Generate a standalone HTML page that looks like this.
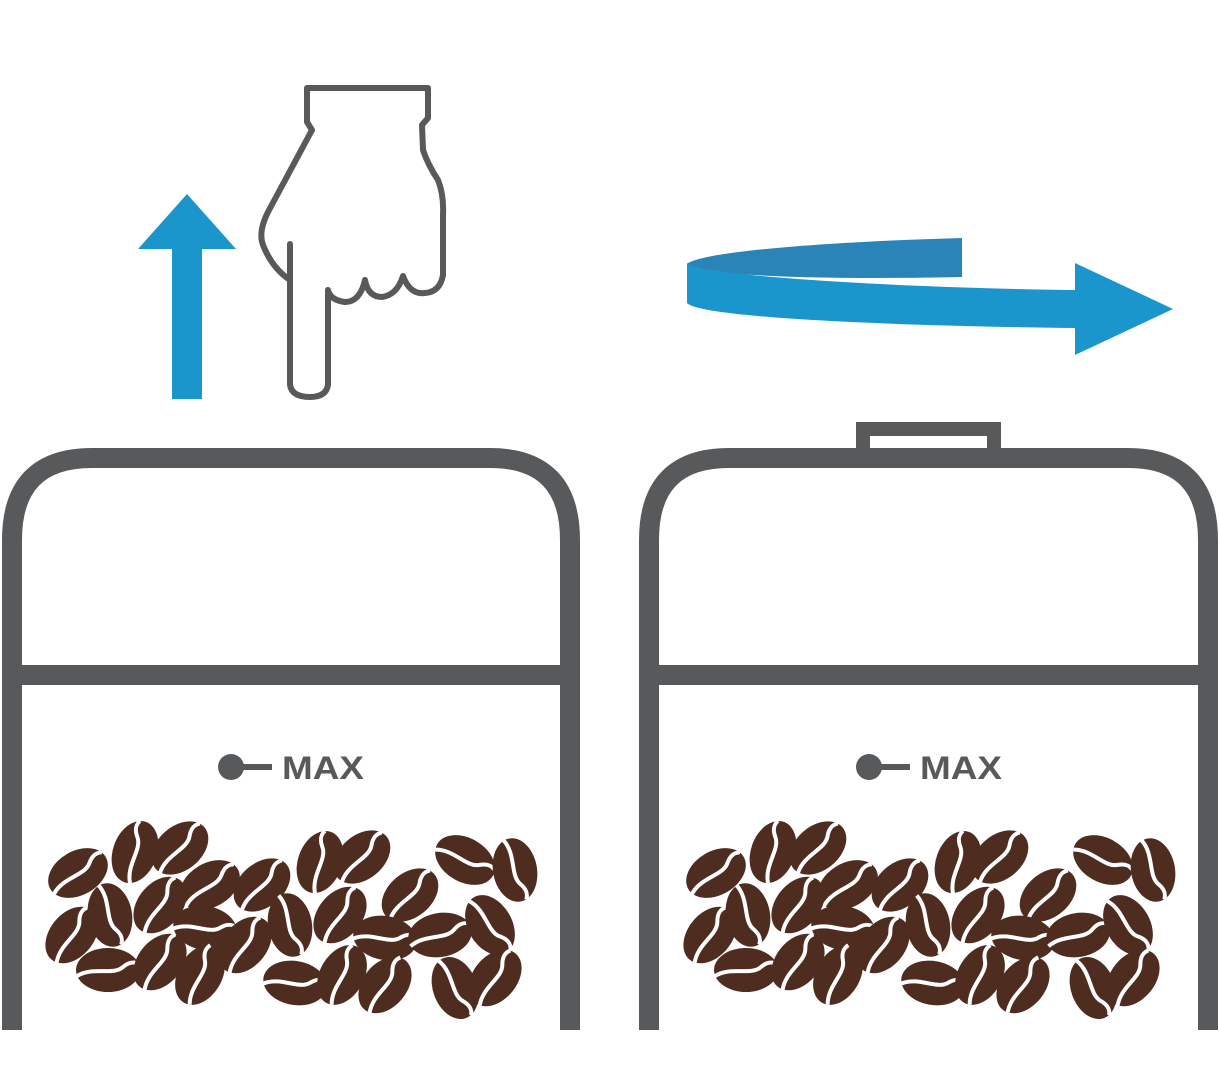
<!DOCTYPE html>
<html><head><meta charset="utf-8"><style>
html,body{margin:0;padding:0;background:#fff;width:1219px;height:1074px;overflow:hidden}
svg{display:block}
</style></head><body>
<svg width="1219" height="1074" viewBox="0 0 1219 1074" xmlns="http://www.w3.org/2000/svg">
<defs>
<g id="b">
<ellipse cx="0" cy="0" rx="32" ry="22" fill="#4e2c20"/>
<path d="M-31,6 C-15,-4 5,6 15,-3 C22,-9 27,-8 31,-6" fill="none" stroke="#fff" stroke-width="4"/>
</g>
<g id="beans">
<use href="#b" transform="translate(78,873) rotate(-30)"/>
<use href="#b" transform="translate(135,852) rotate(-70)"/>
<use href="#b" transform="translate(180,848) rotate(-40)"/>
<use href="#b" transform="translate(210,885) rotate(-30)"/>
<use href="#b" transform="translate(262,885) rotate(-40)"/>
<use href="#b" transform="translate(320,862) rotate(-70)"/>
<use href="#b" transform="translate(362,857) rotate(-40)"/>
<use href="#b" transform="translate(410,895) rotate(-40)"/>
<use href="#b" transform="translate(465,860) rotate(30)"/>
<use href="#b" transform="translate(515,870) rotate(80)"/>
<use href="#b" transform="translate(72,935) rotate(-50)"/>
<use href="#b" transform="translate(110,915) rotate(80)"/>
<use href="#b" transform="translate(160,905) rotate(-50)"/>
<use href="#b" transform="translate(205,928) rotate(10)"/>
<use href="#b" transform="translate(245,945) rotate(-50)"/>
<use href="#b" transform="translate(290,925) rotate(80)"/>
<use href="#b" transform="translate(340,915) rotate(-50)"/>
<use href="#b" transform="translate(385,938) rotate(10)"/>
<use href="#b" transform="translate(440,935) rotate(-10)"/>
<use href="#b" transform="translate(490,925) rotate(60)"/>
<use href="#b" transform="translate(108,970) rotate(0)"/>
<use href="#b" transform="translate(160,962) rotate(-50)"/>
<use href="#b" transform="translate(200,975) rotate(-60)"/>
<use href="#b" transform="translate(295,983) rotate(10)"/>
<use href="#b" transform="translate(342,975) rotate(-60)"/>
<use href="#b" transform="translate(385,985) rotate(-50)"/>
<use href="#b" transform="translate(455,988) rotate(70)"/>
<use href="#b" transform="translate(495,978) rotate(-50)"/>
</g>
</defs>

<polygon points="172,399 202,399 202,249 236,249 187,194 138,249 172,249" fill="#1b96cd"/>

<path d="M307,88 L428,88 L428,118 L422,125 L423,150 Q428,165 438,180 Q444,195 443,215 L443,275 Q440,292 425,293 Q410,295 403,276 Q397,295 382,297 Q368,297 365,280 Q360,302 345,302 Q330,300 328,290 L328,385 Q326,397 310,397 Q292,397 290,385 L290,280 Q272,268 263,245 Q258,232 268,212 L312,130 L307,122 Z" fill="#fff" stroke="#58595b" stroke-width="6" stroke-linejoin="round"/>
<path d="M290,244 L290,285" stroke="#58595b" stroke-width="6" stroke-linecap="round"/>

<path d="M962,238 L962,277 C820,280 700,276 687,264 C700,252 820,242 962,238 Z" fill="#2b84b7"/>
<path d="M687,263 C700,276 900,288 1075,290 L1075,263 L1173,309 L1075,355 L1075,328 C900,326 700,318 687,303 Z" fill="#1b96cd"/>

<g fill="none" stroke="#58595b" stroke-width="20">
<path d="M12,1030 L12,540 Q12,458 92,458 L490,458 Q570,458 570,540 L570,1030"/>
<line x1="2" y1="675" x2="580" y2="675"/>
</g>
<circle cx="231" cy="767" r="13" fill="#58595b"/>
<line x1="231" y1="767" x2="272" y2="767" stroke="#58595b" stroke-width="6"/>
<text x="282" y="779" font-family="Liberation Sans, sans-serif" font-weight="bold" font-size="32" fill="#58595b" textLength="82" lengthAdjust="spacingAndGlyphs">MAX</text>
<use href="#beans"/>

<rect x="863" y="429" width="131" height="26" fill="#fff" stroke="#58595b" stroke-width="14"/>
<g fill="none" stroke="#58595b" stroke-width="20">
<path d="M649,1030 L649,540 Q649,458 729,458 L1128,458 Q1208,458 1208,540 L1208,1030"/>
<line x1="639" y1="675" x2="1218" y2="675"/>
</g>
<circle cx="869" cy="767" r="13" fill="#58595b"/>
<line x1="869" y1="767" x2="910" y2="767" stroke="#58595b" stroke-width="6"/>
<text x="920" y="779" font-family="Liberation Sans, sans-serif" font-weight="bold" font-size="32" fill="#58595b" textLength="82" lengthAdjust="spacingAndGlyphs">MAX</text>
<use href="#beans" transform="translate(638,0)"/>
</svg>
</body></html>
